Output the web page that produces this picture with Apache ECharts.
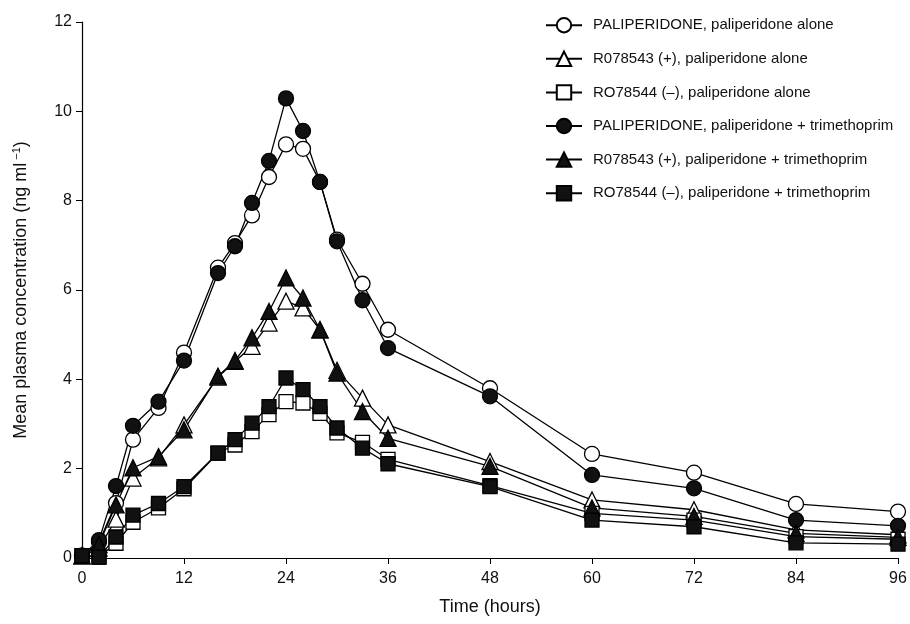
<!DOCTYPE html>
<html>
<head>
<meta charset="utf-8">
<title>Mean plasma concentration</title>
<script src="https://cdn.jsdelivr.net/npm/echarts@6/dist/echarts.min.js"></script>
<style>
  html, body { margin: 0; padding: 0; background: #fff; }
  #main { width: 910px; height: 624px; }
</style>
</head>
<body>
<div id="main"></div>
<script>
// sampling times (hours)
var times = [0, 2, 4, 6, 9, 12, 16, 18, 20, 22, 24, 26, 28, 30, 33, 36, 48, 60, 72, 84, 96];

// paliperidone alone
var palAlone  = [0.05, 0.35, 1.23, 2.65, 3.36, 4.60, 6.50, 7.05, 7.67, 8.53, 9.26, 9.16, 8.42, 7.13, 6.14, 5.11, 3.80, 2.33, 1.91, 1.21, 1.04];
var r543Alone = [0.05, 0.22, 0.87, 1.79, 2.24, 2.98, 4.05, 4.40, 4.74, 5.26, 5.75, 5.60, 5.11, 4.20, 3.58, 2.98, 2.16, 1.30, 1.08, 0.63, 0.52];
var r544Alone = [0.05, 0.02, 0.33, 0.80, 1.12, 1.55, 2.35, 2.53, 2.83, 3.21, 3.50, 3.47, 3.24, 2.80, 2.59, 2.21, 1.62, 1.00, 0.85, 0.48, 0.42];

// paliperidone + trimethoprim
var palTmp  = [0.05, 0.40, 1.61, 2.96, 3.50, 4.42, 6.38, 6.98, 7.95, 8.89, 10.29, 9.56, 8.42, 7.09, 5.77, 4.70, 3.62, 1.86, 1.56, 0.85, 0.72];
var r543Tmp = [0.05, 0.30, 1.19, 2.02, 2.27, 2.87, 4.07, 4.42, 4.93, 5.52, 6.27, 5.82, 5.11, 4.14, 3.28, 2.68, 2.05, 1.12, 0.93, 0.55, 0.46];
var r544Tmp = [0.05, 0.02, 0.47, 0.96, 1.22, 1.60, 2.35, 2.65, 3.02, 3.39, 4.03, 3.77, 3.39, 2.91, 2.46, 2.11, 1.60, 0.85, 0.70, 0.34, 0.31];

var names = [
  'PALIPERIDONE, paliperidone alone',
  'R078543 (+), paliperidone alone',
  'RO78544 (\u2013), paliperidone alone',
  'PALIPERIDONE, paliperidone + trimethoprim',
  'R078543 (+), paliperidone + trimethoprim',
  'RO78544 (\u2013), paliperidone + trimethoprim'
];

var font = 'Liberation Sans, Arial, Helvetica, sans-serif';

function pairs(vals){
  var out = [];
  for (var i = 0; i < times.length; i++) out.push([times[i], vals[i]]);
  return out;
}

function makeSeries(name, vals, symbol, size, filled){
  return {
    name: name,
    type: 'line',
    data: pairs(vals),
    symbol: symbol,
    symbolSize: size,
    showAllSymbol: true,
    animation: false,
    lineStyle: { color: '#000', width: 1.3 },
    itemStyle: {
      color: filled ? '#111' : '#fff',
      borderColor: '#000',
      borderWidth: 1.3,
      opacity: 1
    },
    emphasis: { disabled: true }
  };
}

var chart = echarts.init(document.getElementById('main'));

chart.setOption({
  backgroundColor: '#fff',
  animation: false,
  grid: { left: 82, right: 12, top: 22, bottom: 66 },
  legend: {
    orient: 'vertical',
    left: 540,
    top: 12,
    itemWidth: 36,
    itemHeight: 18,
    itemGap: 17.2,
    textStyle: { fontFamily: font, fontSize: 15, color: '#111', padding: [0, 0, 0, 6] },
    data: names
  },
  xAxis: {
    type: 'value',
    min: 0, max: 96, interval: 12,
    name: 'Time (hours)',
    nameLocation: 'middle',
    nameGap: 40,
    nameTextStyle: { fontFamily: font, fontSize: 18, color: '#111' },
    axisLine: { lineStyle: { color: '#000', width: 1.2 } },
    axisTick: { length: 6, lineStyle: { color: '#000' } },
    axisLabel: { fontFamily: font, fontSize: 16, color: '#111', margin: 13 },
    splitLine: { show: false }
  },
  yAxis: {
    type: 'value',
    min: 0, max: 12, interval: 2,
    name: '{a|Mean plasma concentration (ng ml}{s|\u22121}{a|)}',
    nameLocation: 'middle',
    nameGap: 51,
    nameTextStyle: {
      rich: {
        a: { fontFamily: font, fontSize: 18, color: '#111' },
        s: { fontFamily: font, fontSize: 11, color: '#111', padding: [0, 0, 9, 3] }
      }
    },
    axisLine: { show: true, lineStyle: { color: '#000', width: 1.2 } },
    axisTick: { show: true, length: 6, lineStyle: { color: '#000' } },
    axisLabel: { fontFamily: font, fontSize: 16, color: '#111', margin: 10 },
    splitLine: { show: false }
  },
  series: [
    makeSeries(names[0], palAlone, 'circle', 15, false),
    makeSeries(names[1], r543Alone, 'triangle', 16, false),
    makeSeries(names[2], r544Alone, 'rect', 14, false),
    makeSeries(names[3], palTmp, 'circle', 15, true),
    makeSeries(names[4], r543Tmp, 'triangle', 16, true),
    makeSeries(names[5], r544Tmp, 'rect', 14, true)
  ]
});
</script>
</body>
</html>
